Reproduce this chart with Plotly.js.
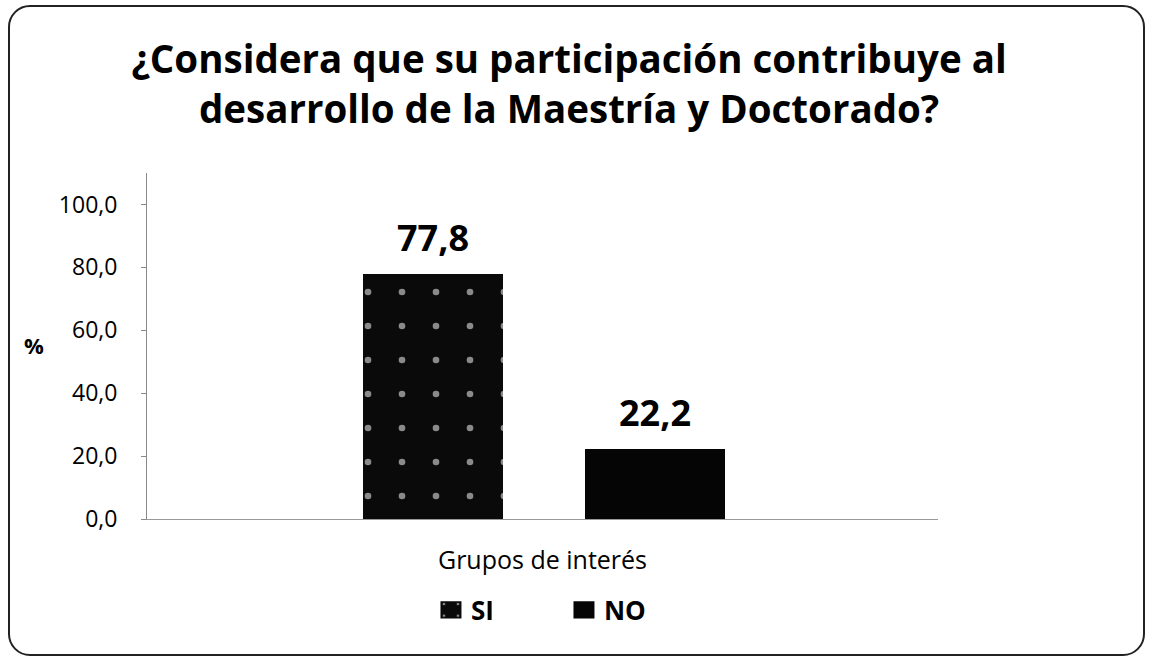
<!DOCTYPE html>
<html>
<head>
<meta charset="utf-8">
<script src="https://cdn.plot.ly/plotly-3.0.1.min.js"></script>
<style>
  html, body { margin: 0; padding: 0; background: #fff; }
  #wrap { position: relative; width: 1152px; height: 656px; }
  #chart { position: absolute; left: 0; top: 0; width: 1152px; height: 656px; }
  #frame { position: absolute; left: 8px; top: 5px; width: 1133px; height: 647px;
           border: 2px solid #222; border-radius: 22px; pointer-events: none; }
</style>
</head>
<body>
<div id="wrap">
  <div id="chart"></div>
  <div id="frame"></div>
</div>
<script>
// ---- data ----
const titleText = "¿Considera que su participación contribuye al<br>desarrollo de la Maestría y Doctorado?";
const categories = ["Grupos de interés"];
const seriesNames = ["SI", "NO"];
const valuesSI = [77.8];
const valuesNO = [22.2];
const yTitle = "%";

// ---- style ----
const FONT = "'Open Sans', Lato, sans-serif";
const barWidth = 0.177;
const offSI = -0.2269;
const offNO = 0.0537;

const traceSI = {
  type: "bar", name: "<b>" + seriesNames[0] + "</b>", x: categories, y: valuesSI,
  width: barWidth, offset: offSI,
  marker: { color: "#0a0a0a",
            pattern: { shape: ".", bgcolor: "#0a0a0a", fgcolor: "#8a8a8a", size: 34, solidity: 0.03 },
            line: { width: 0 } },
  hoverinfo: "none"
};
const traceNO = {
  type: "bar", name: "<b>" + seriesNames[1] + "</b>", x: categories, y: valuesNO,
  width: barWidth, offset: offNO,
  marker: { color: "#050505", line: { width: 0 } },
  hoverinfo: "none"
};

function fmt(v) { return v.toFixed(1).replace(".", ","); }

const annotations = [
  { xref: "x", yref: "y", x: 0 + offSI + barWidth / 2, y: valuesSI[0], text: "<b>" + fmt(valuesSI[0]) + "</b>",
    showarrow: false, yanchor: "bottom", yshift: 10, font: { family: FONT, size: 36, color: "#000" } },
  { xref: "x", yref: "y", x: 0 + offNO + barWidth / 2, y: valuesNO[0], text: "<b>" + fmt(valuesNO[0]) + "</b>",
    showarrow: false, yanchor: "bottom", yshift: 10, font: { family: FONT, size: 36, color: "#000" } },
  { xref: "paper", yref: "paper", x: -0.1429, y: 0.503, text: "<b>" + yTitle + "</b>",
    showarrow: false, xanchor: "center", yanchor: "middle", font: { family: FONT, size: 22, color: "#000" } }
];

const layout = {
  width: 1152, height: 656,
  margin: { l: 147, r: 214, t: 173, b: 137, pad: 0 },
  paper_bgcolor: "#fff", plot_bgcolor: "#fff",
  separators: ",.",
  font: { family: FONT, color: "#000" },
  title: { text: "<b>" + titleText + "</b>", font: { family: FONT, size: 38.5, color: "#000" },
           xref: "container", x: 0.494, xanchor: "center",
           yref: "container", y: 1 - 73 / 656, yanchor: "top" },
  xaxis: { type: "category", range: [-0.5, 0.5], showgrid: false, zeroline: false,
           showline: true, linecolor: "#999", linewidth: 1, ticks: "",
           tickfont: { family: FONT, size: 25, color: "#000" }, ticklabelstandoff: 19, fixedrange: true },
  yaxis: { range: [0, 110], dtick: 20, tick0: 0, tickformat: ".1f", showgrid: false, zeroline: false,
           showline: true, linecolor: "#888", linewidth: 1, ticks: "outside", ticklen: 5, tickcolor: "#888",
           tickfont: { family: FONT, size: 23, color: "#000" }, ticklabelstandoff: 19, fixedrange: true },
  showlegend: true,
  legend: { orientation: "h", xref: "paper", x: 0.359, xanchor: "left", yref: "paper", y: -0.195, yanchor: "top",
            font: { family: FONT, size: 26, color: "#000" }, traceorder: "normal", entrywidth: 88,
            itemclick: false, itemdoubleclick: false },
  annotations: annotations,
  bargap: 0, barmode: "group"
};

Plotly.newPlot("chart", [traceSI, traceNO], layout, { displayModeBar: false, staticPlot: true }).then(function () {
  document.querySelectorAll("#chart .legendpoints path").forEach(function (p) {
    p.setAttribute("transform", (p.getAttribute("transform") || "") + " scale(1.75,1.45)");
  });
});
</script>
</body>
</html>
